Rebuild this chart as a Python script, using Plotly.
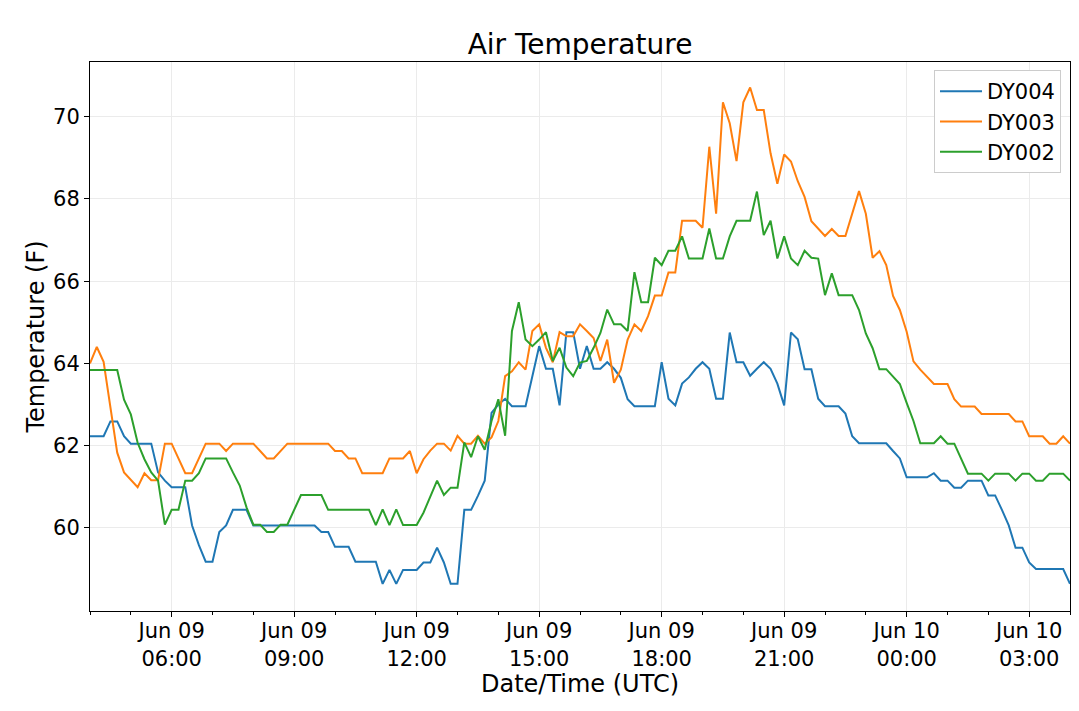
import pandas as pd
import plotly.graph_objects as go

# 10-minute observations, Jun 09 04:00 UTC -> Jun 10 04:00 UTC
start_time = "2019-06-09 04:00"
n_points = 145
times = pd.date_range(start_time, periods=n_points, freq="10min")

dy004 = [
    62.23, 62.23, 62.23, 62.59, 62.59, 62.23, 62.05, 62.05, 62.05, 62.05,
    61.35, 61.15, 60.99, 60.99, 60.99, 60.06, 59.58, 59.18, 59.18, 59.90,
    60.06, 60.44, 60.44, 60.44, 60.06, 60.06, 60.06, 60.06, 60.06, 60.06,
    60.06, 60.06, 60.06, 60.06, 59.90, 59.90, 59.54, 59.54, 59.54, 59.18,
    59.18, 59.18, 59.18, 58.64, 58.98, 58.64, 58.98, 58.98, 58.98, 59.16,
    59.16, 59.52, 59.16, 58.64, 58.64, 60.44, 60.44, 60.78, 61.15, 62.80,
    63.00, 63.14, 62.96, 62.96, 62.96, 63.69, 64.42, 63.87, 63.87, 62.98,
    64.76, 64.76, 63.87, 64.42, 63.87, 63.87, 64.03, 63.87, 63.65, 63.13,
    62.96, 62.96, 62.96, 62.96, 64.03, 63.14, 62.98, 63.51, 63.66, 63.87,
    64.03, 63.87, 63.14, 63.14, 64.75, 64.03, 64.03, 63.70, 63.87, 64.03,
    63.87, 63.51, 62.98, 64.75, 64.59, 63.86, 63.86, 63.14, 62.96, 62.96,
    62.96, 62.78, 62.23, 62.06, 62.06, 62.06, 62.06, 62.06, 61.87, 61.69,
    61.23, 61.23, 61.23, 61.23, 61.33, 61.15, 61.15, 60.98, 60.98, 61.15,
    61.15, 61.15, 60.79, 60.79, 60.44, 60.06, 59.52, 59.52, 59.16, 59.00,
    59.00, 59.00, 59.00, 59.00, 58.64,
]

dy003 = [
    64.00, 64.40, 64.04, 62.96, 61.83, 61.35, 61.16, 60.99, 61.33, 61.16,
    61.16, 62.05, 62.05, 61.69, 61.33, 61.33, 61.69, 62.05, 62.05, 62.05,
    61.87, 62.05, 62.05, 62.05, 62.05, 61.87, 61.69, 61.69, 61.87, 62.05,
    62.05, 62.05, 62.05, 62.05, 62.05, 62.05, 61.87, 61.87, 61.69, 61.69,
    61.33, 61.33, 61.33, 61.33, 61.69, 61.69, 61.69, 61.87, 61.33, 61.67,
    61.88, 62.05, 62.05, 61.88, 62.24, 62.05, 62.05, 62.24, 62.05, 62.20,
    62.60, 63.69, 63.81, 64.03, 63.85, 64.79, 64.95, 64.38, 64.03, 64.76,
    64.66, 64.66, 64.95, 64.79, 64.62, 64.06, 64.58, 63.53, 63.85, 64.58,
    64.95, 64.79, 65.15, 65.65, 65.65, 66.21, 66.21, 67.47, 67.47, 67.47,
    67.30, 69.27, 67.64, 70.35, 69.84, 68.92, 70.35, 70.71, 70.16, 70.16,
    69.11, 68.37, 69.08, 68.91, 68.43, 68.05, 67.46, 67.27, 67.10, 67.27,
    67.10, 67.10, 67.64, 68.19, 67.64, 66.57, 66.73, 66.39, 65.64, 65.30,
    64.77, 64.05, 63.85, 63.67, 63.50, 63.50, 63.50, 63.13, 62.95, 62.95,
    62.95, 62.77, 62.77, 62.77, 62.77, 62.77, 62.59, 62.59, 62.23, 62.23,
    62.23, 62.05, 62.05, 62.23, 62.05,
]

dy002 = [
    63.84, 63.84, 63.84, 63.84, 63.84, 63.12, 62.76, 62.07, 61.67, 61.35,
    61.15, 60.08, 60.44, 60.44, 61.15, 61.15, 61.33, 61.69, 61.69, 61.69,
    61.69, 61.35, 61.03, 60.50, 60.08, 60.08, 59.90, 59.90, 60.08, 60.08,
    60.44, 60.80, 60.80, 60.80, 60.80, 60.44, 60.44, 60.44, 60.44, 60.44,
    60.44, 60.44, 60.07, 60.45, 60.07, 60.45, 60.07, 60.07, 60.07, 60.37,
    60.78, 61.15, 60.80, 60.98, 60.98, 62.08, 61.72, 62.23, 61.90, 62.60,
    63.13, 62.24, 64.79, 65.49, 64.58, 64.42, 64.58, 64.76, 64.06, 64.38,
    63.90, 63.69, 64.02, 64.06, 64.38, 64.74, 65.31, 64.95, 64.95, 64.79,
    66.22, 65.49, 65.49, 66.57, 66.39, 66.74, 66.74, 67.09, 66.55, 66.55,
    66.55, 67.28, 66.55, 66.55, 67.09, 67.47, 67.47, 67.47, 68.18, 67.12,
    67.47, 66.55, 67.09, 66.55, 66.39, 66.74, 66.57, 66.55, 65.66, 66.19,
    65.66, 65.66, 65.66, 65.30, 64.73, 64.37, 63.86, 63.86, 63.69, 63.50,
    63.04, 62.60, 62.06, 62.06, 62.06, 62.23, 62.05, 62.05, 61.70, 61.32,
    61.32, 61.32, 61.15, 61.32, 61.32, 61.32, 61.15, 61.32, 61.32, 61.15,
    61.15, 61.32, 61.32, 61.32, 61.15,
]

series_names = ["DY004", "DY003", "DY002"]
series_values = [dy004, dy003, dy002]
series_colors = ["#1f77b4", "#ff7f0e", "#2ca02c"]

tick_times = ["2019-06-09 06:00", "2019-06-09 09:00", "2019-06-09 12:00",
              "2019-06-09 15:00", "2019-06-09 18:00", "2019-06-09 21:00",
              "2019-06-10 00:00", "2019-06-10 03:00"]
tick_labels = ["Jun 09<br>06:00", "Jun 09<br>09:00", "Jun 09<br>12:00",
               "Jun 09<br>15:00", "Jun 09<br>18:00", "Jun 09<br>21:00",
               "Jun 10<br>00:00", "Jun 10<br>03:00"]
y_ticks = [60, 62, 64, 66, 68, 70]

FONT = "DejaVu Sans"
W, H = 1071, 703   # page body has an 8px margin
OFF = 8

fig = go.Figure()
for name, vals, col in zip(series_names, series_values, series_colors):
    fig.add_trace(go.Scatter(
        x=times, y=vals, mode="lines", name=name,
        line=dict(color=col, width=2),
    ))

fig.update_layout(
    width=W, height=H,
    margin=dict(l=90 - OFF, r=9, t=62 - OFF, b=100, autoexpand=False),
    paper_bgcolor="white", plot_bgcolor="white",
    font=dict(family=FONT, size=21, color="black"),
    title=dict(text="Air Temperature", x=0.5, xref="paper",
               y=1 - (44 - OFF) / H, yref="container", yanchor="middle",
               font=dict(size=28, family=FONT, color="black")),
    showlegend=True,
    legend=dict(x=(1061 - 90) / 980, xanchor="right",
                y=(611 - 70) / 549, yanchor="top",
                bgcolor="white", bordercolor="#cccccc", borderwidth=1,
                itemwidth=42,
                font=dict(size=21, family=FONT, color="black"),
                tracegroupgap=0),
)

fig.update_xaxes(
    type="date",
    range=["2019-06-09 04:00", "2019-06-10 04:00"],
    tickmode="array", tickvals=tick_times, ticktext=tick_labels,
    ticks="outside", ticklen=5, tickwidth=1, tickcolor="black",
    ticklabelstandoff=-4,
    showline=True, linecolor="black", linewidth=1, mirror=True,
    showgrid=True, gridcolor="#ebebeb", gridwidth=1,
    zeroline=False,
    tickfont=dict(size=21, family=FONT, color="black"),
    title=dict(text="Date/Time (UTC)", font=dict(size=24, family=FONT, color="black"),
               standoff=0),
    minor=dict(tickmode="linear", tick0="2019-06-09 04:00", dtick=3600000,
               ticks="outside", ticklen=3, tickcolor="black", showgrid=False),
)

fig.update_yaxes(
    range=[57.98, 71.33],
    tickmode="array", tickvals=y_ticks,
    ticks="outside", ticklen=5, tickwidth=1, tickcolor="black",
    showline=True, linecolor="black", linewidth=1, mirror=True,
    showgrid=True, gridcolor="#ebebeb", gridwidth=1,
    zeroline=False,
    tickfont=dict(size=21, family=FONT, color="black"),
    title=dict(text="Temperature (F)", font=dict(size=24, family=FONT, color="black"),
               standoff=1),
)

fig.write_html("out.html")
